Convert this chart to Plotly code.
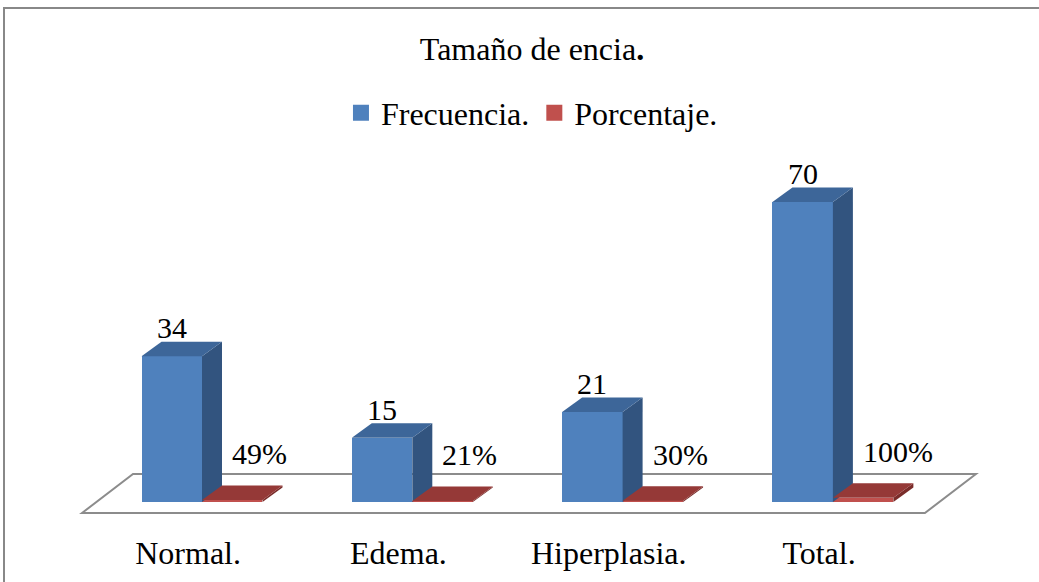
import plotly.graph_objects as go

# ---- data ----
categories = ["Normal.", "Edema.", "Hiperplasia.", "Total."]
frecuencia = [34, 15, 21, 70]
porcentaje = [0.49, 0.21, 0.30, 1.00]          # stored as fractions (100% = 1)
porcentaje_labels = ["49%", "21%", "30%", "100%"]
series_names = ["Frecuencia.", "Porcentaje."]
title_text = "Tamaño de encia<b>.</b>"

# ---- style / geometry ----
W, H = 1039, 582
BLUE = "#4f81bd"; BLUE_TOP = "#3d6699"; BLUE_SIDE = "#32547f"
RED = "#c0504d"; RED_TOP = "#953937"; RED_SIDE = "#7a2c2a"
FONT = "Liberation Serif"
BW = 0.2876          # bar width (category units)
DX = 0.0951          # 3-D depth offset in x (category units)
DY = 3.38            # 3-D depth offset in y (value units)
XR = [-0.9605, 3.980]
YR = [-4.2, 117.13]

x_idx = list(range(len(categories)))
blue_x = [i - BW / 2 for i in x_idx]
red_x = [i + BW / 2 for i in x_idx]

fig = go.Figure()
fig.add_trace(go.Bar(x=blue_x, y=frecuencia, width=BW, name=series_names[0],
                     marker=dict(color=BLUE, line=dict(width=0)), showlegend=False))
fig.add_trace(go.Bar(x=red_x, y=porcentaje, width=BW, name=series_names[1],
                     marker=dict(color=RED, line=dict(width=0)), showlegend=False))
# legend entries (square swatches)
for name, col in zip(series_names, [BLUE, RED]):
    fig.add_trace(go.Scatter(x=[None], y=[None], mode="markers", name=name,
                             marker=dict(symbol="square", size=16, color=col)))

shapes = []
# floor (drawn below the bars)
n = len(categories)
fl_l, fl_r = -0.5706, (n - 1) + 0.4375
fl_b, fl_t = -2.57, 6.53
depth_x = 0.2426
shapes.append(dict(type="path", layer="below", xref="x", yref="y",
                   path=f"M{fl_l},{fl_b} L{fl_l+depth_x},{fl_t} L{fl_r+depth_x},{fl_t} L{fl_r},{fl_b} Z",
                   fillcolor="white", line=dict(color="#8c8c8c", width=2)))


def box_faces(xc, v, top_col, side_col):
    xl, xr = xc - BW / 2, xc + BW / 2
    side = f"M{xr},0 L{xr+DX},{DY} L{xr+DX},{v+DY} L{xr},{v} Z"
    top = f"M{xl},{v} L{xl+DX},{v+DY} L{xr+DX},{v+DY} L{xr},{v} Z"
    return [dict(type="path", xref="x", yref="y", path=side, fillcolor=side_col,
                 line=dict(width=0)),
            dict(type="path", xref="x", yref="y", path=top, fillcolor=top_col,
                 line=dict(width=0))]


for i in x_idx:
    shapes += box_faces(blue_x[i], frecuencia[i], BLUE_TOP, BLUE_SIDE)
    shapes += box_faces(red_x[i], porcentaje[i], RED_TOP, RED_SIDE)

# outer frame
shapes.append(dict(type="rect", xref="paper", yref="paper", x0=4 / W, x1=1.05,
                   y0=-0.3, y1=1 - 8 / 520, line=dict(color="#888888", width=2),
                   fillcolor="rgba(0,0,0,0)"))

annotations = []
for i in x_idx:
    annotations.append(dict(x=blue_x[i], y=frecuencia[i] + DY, xref="x", yref="y",
                            text=str(frecuencia[i]), showarrow=False,
                            xanchor="center", yanchor="middle", yshift=14,
                            font=dict(family=FONT, size=30, color="black")))
    annotations.append(dict(x=i, y=porcentaje[i] + DY, xref="x", yref="y",
                            text=porcentaje_labels[i], showarrow=False,
                            xanchor="left", yanchor="middle", xshift=28, yshift=32,
                            font=dict(family=FONT, size=30, color="black")))

fig.update_layout(
    width=W, height=H,
    margin=dict(l=0, r=0, t=0, b=62),
    paper_bgcolor="white", plot_bgcolor="white",
    barmode="overlay", bargap=0,
    title=dict(text=title_text, x=532 / W, xanchor="center", xref="container",
               y=1 - 49 / H, yanchor="middle", yref="container",
               font=dict(family=FONT, size=32, color="black")),
    legend=dict(orientation="h", x=0.512, xanchor="center", y=1 - 113 / 520,
                yanchor="middle", font=dict(family=FONT, size=32, color="black"),
                bgcolor="rgba(0,0,0,0)", itemclick=False, traceorder="normal"),
    xaxis=dict(range=XR, showgrid=False, zeroline=False, showline=False,
               tickmode="array", tickvals=[i - 0.066 for i in x_idx],
               ticktext=categories, ticks="", ticklabelstandoff=11,
               tickfont=dict(family=FONT, size=32, color="black"), fixedrange=True),
    yaxis=dict(range=YR, showgrid=False, zeroline=False, showline=False,
               showticklabels=False, ticks="", fixedrange=True),
    shapes=shapes, annotations=annotations, showlegend=True,
)

fig.write_html("out.html", config={"displayModeBar": False},
               post_script="document.body.style.margin='0';")
